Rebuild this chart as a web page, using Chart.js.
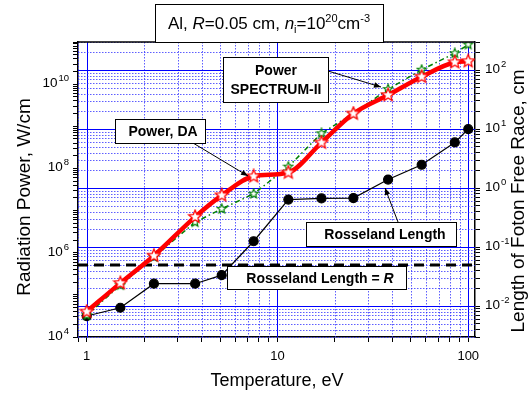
<!DOCTYPE html>
<html lang="en">
<head>
<meta charset="UTF-8">
<title>Al radiation power</title>
<script src="https://cdn.jsdelivr.net/npm/chart.js"></script>
<style>
  body { margin: 0; background: #fff; }
</style>
</head>
<body>
<canvas id="myChart" width="532" height="394"></canvas>
<script>
// temperature, eV
const temps = [1, 1.5, 2.25, 3.7, 5.1, 7.5, 11.4, 17, 25, 38, 57, 85, 100];
// radiation power, W/cm (left axis)
const powerDA = [4.0e4, 1.9e5, 8.5e5, 7.1e6, 2.3e7, 6.5e7, 8.0e7, 4.1e8, 2.0e9, 5.5e9, 1.5e10, 3.3e10, 3.5e10];
const powerSpectrum = [3.3e4, 1.7e5, 7.9e5, 5.3e6, 1.1e7, 2.5e7, 1.1e8, 6.8e8, 2.0e9, 7.6e9, 2.2e10, 5.4e10, 8.7e10];
// Rosseland length, cm (right axis)
const rosseland = [0.0068, 0.0094, 0.024, 0.024, 0.0335, 0.126, 0.64, 0.67, 0.68, 1.40, 2.49, 5.95, 10];
const plasmaR = 0.05;

// axis ranges and labelled ticks
const xRange = [0.9, 108.5];
const leftRange = [1e4, 1e11];
const rightRange = [0.003, 300];
const xLabels = [1, 10, 100];
const leftLabels = [1e4, 1e6, 1e8, 1e10];
const rightLabels = [0.01, 0.1, 1, 10, 100];

const FONT = 'Arial, "Liberation Sans", Helvetica, sans-serif';

function logTicks(min, max) {
  const out = [];
  for (let n = Math.floor(Math.log10(min)); n <= Math.ceil(Math.log10(max)); n++) {
    for (let k = 1; k <= 9; k++) {
      const v = k * Math.pow(10, n);
      if (v >= min * 0.9999 && v <= max * 1.0001) out.push({value: v});
    }
  }
  return out;
}
function isDecade(v) {
  const l = Math.log10(v);
  return Math.abs(l - Math.round(l)) < 1e-6;
}

function starImage(size, stroke, lw) {
  const c = document.createElement('canvas');
  c.width = c.height = size;
  const g = c.getContext('2d');
  const cx = size / 2, cy = size / 2, r = size / 2 - lw, ri = r * 0.45;
  g.beginPath();
  for (let i = 0; i < 10; i++) {
    const a = -Math.PI / 2 + i * Math.PI / 5;
    const rr = i % 2 ? ri : r;
    g.lineTo(cx + rr * Math.cos(a), cy + rr * Math.sin(a));
  }
  g.closePath();
  g.fillStyle = '#fff';
  g.fill();
  g.strokeStyle = stroke;
  g.lineWidth = lw;
  g.stroke();
  return c;
}
const redStar = starImage(16, '#ff0000', 1.3);
const greenStar = starImage(12, '#008000', 1.2);

function pts(ys) {
  return temps.map((t, i) => ({x: t, y: ys[i]}));
}

// 10^n with a raised exponent
function drawPow(ctx, exp, x, y, align) {
  ctx.font = '13.5px ' + FONT;
  const wb = ctx.measureText('10').width;
  ctx.font = '9.5px ' + FONT;
  const we = ctx.measureText(exp).width;
  const x0 = align === 'right' ? x - wb - we - 1 : x;
  ctx.fillStyle = '#000';
  ctx.textAlign = 'left';
  ctx.textBaseline = 'alphabetic';
  ctx.font = '13.5px ' + FONT;
  ctx.fillText('10', x0, y + 3);
  ctx.font = '9.5px ' + FONT;
  ctx.fillText(exp, x0 + wb + 1, y - 3);
}

function box(ctx, x, y, w, h) {
  ctx.fillStyle = '#fff';
  ctx.fillRect(x, y, w, h);
  ctx.strokeStyle = '#000';
  ctx.lineWidth = 1;
  ctx.strokeRect(x + 0.5, y + 0.5, w, h);
}

function arrow(ctx, x1, y1, x2, y2) {
  ctx.strokeStyle = '#000';
  ctx.fillStyle = '#000';
  ctx.lineWidth = 1;
  ctx.beginPath();
  ctx.moveTo(x1, y1);
  ctx.lineTo(x2, y2);
  ctx.stroke();
  const a = Math.atan2(y2 - y1, x2 - x1);
  const L = 7, W = 2.8;
  ctx.beginPath();
  ctx.moveTo(x2, y2);
  ctx.lineTo(x2 - L * Math.cos(a) + W * Math.sin(a), y2 - L * Math.sin(a) - W * Math.cos(a));
  ctx.lineTo(x2 - L * Math.cos(a) - W * Math.sin(a), y2 - L * Math.sin(a) + W * Math.cos(a));
  ctx.closePath();
  ctx.fill();
}

// draws pieces of text in a row: [text, font, yOffset]
function richText(ctx, parts, cx, baseline) {
  let total = 0;
  parts.forEach(p => { ctx.font = p[1]; total += ctx.measureText(p[0]).width; });
  let x = cx - total / 2;
  ctx.textAlign = 'left';
  ctx.textBaseline = 'alphabetic';
  ctx.fillStyle = '#000';
  parts.forEach(p => {
    ctx.font = p[1];
    ctx.fillText(p[0], x, baseline + (p[2] || 0));
    x += ctx.measureText(p[0]).width;
  });
}

// blue grid: solid at decades, dotted in between
const gridLines = {
  id: 'gridLines',
  beforeDatasetsDraw(chart) {
    const {ctx, chartArea: a, scales} = chart;
    ctx.save();
    ctx.lineWidth = 1;
    const style = major => {
      ctx.strokeStyle = major ? '#0000ff' : 'rgba(40,40,255,0.75)';
      ctx.setLineDash(major ? [] : [1.5, 1.5]);
    };
    logTicks(xRange[0], xRange[1]).forEach(t => {
      const x = Math.round(scales.x.getPixelForValue(t.value)) + 0.5;
      style(isDecade(t.value));
      ctx.beginPath();
      ctx.moveTo(x, a.top);
      ctx.lineTo(x, a.bottom);
      ctx.stroke();
    });
    logTicks(rightRange[0], rightRange[1]).forEach(t => {
      const y = Math.round(scales.y2.getPixelForValue(t.value)) + 0.5;
      style(isDecade(t.value));
      ctx.beginPath();
      ctx.moveTo(a.left, y);
      ctx.lineTo(a.right, y);
      ctx.stroke();
    });
    ctx.restore();
  }
};

const decorations = {
  id: 'decorations',
  afterDraw(chart) {
    const {ctx, chartArea: a, scales} = chart;
    ctx.save();
    // top edge of the frame
    ctx.strokeStyle = '#000';
    ctx.lineWidth = 1.5;
    ctx.beginPath();
    ctx.moveTo(a.left, a.top);
    ctx.lineTo(a.right, a.top);
    ctx.stroke();

    leftLabels.forEach(v => drawPow(ctx, String(Math.round(Math.log10(v))), 69, scales.y.getPixelForValue(v), 'right'));
    rightLabels.forEach(v => drawPow(ctx, String(Math.round(Math.log10(v))), 485, scales.y2.getPixelForValue(v), 'left'));

    // axis titles
    ctx.fillStyle = '#000';
    ctx.textAlign = 'center';
    ctx.textBaseline = 'middle';
    ctx.font = '18px ' + FONT;
    ctx.fillText('Temperature, eV', 277, 381);
    ctx.save();
    ctx.translate(25, 197);
    ctx.rotate(-Math.PI / 2);
    ctx.font = '19px ' + FONT;
    ctx.fillText('Radiation Power, W/cm', 0, 0);
    ctx.restore();
    ctx.save();
    ctx.translate(519, 201);
    ctx.rotate(-Math.PI / 2);
    ctx.font = '19px ' + FONT;
    ctx.fillText('Length of Foton Free Race, cm', 0, 0);
    ctx.restore();

    // arrows
    arrow(ctx, 328, 71, 381, 87);
    arrow(ctx, 193, 143, 248, 176);
    arrow(ctx, 398, 222, 385, 188);

    // title box
    box(ctx, 155, 4, 228, 38);
    const n17 = '17px ' + FONT, i17 = 'italic 17px ' + FONT, s11 = '11px ' + FONT;
    richText(ctx, [['Al, ', n17], ['R', i17], ['=0.05 cm, ', n17], ['n', i17], ['i', s11, 4],
      ['=10', n17], ['20', s11, -7], ['cm', n17], ['-3', s11, -7]], 269, 29);

    // labels
    const b14 = 'bold 14px ' + FONT;
    box(ctx, 223, 57, 105, 45);
    richText(ctx, [['Power', b14]], 276, 75);
    richText(ctx, [['SPECTRUM-II', b14]], 276, 94);
    box(ctx, 115, 119, 90, 24);
    richText(ctx, [['Power, DA', b14]], 163, 136);
    box(ctx, 306, 222, 150, 24);
    richText(ctx, [['Rosseland Length', b14]], 385, 239);
    box(ctx, 227, 266, 179, 23);
    richText(ctx, [['Rosseland Length = ', b14], ['R', 'bold italic 14px ' + FONT]], 320, 283);
    ctx.restore();
  }
};

const ctx = document.getElementById('myChart');
new Chart(ctx, {
  type: 'line',
  data: {
    datasets: [
      {
        label: 'Power, DA',
        data: pts(powerDA),
        yAxisID: 'y',
        borderColor: '#ff0000',
        borderWidth: 4.5,
        cubicInterpolationMode: 'monotone',
        pointStyle: redStar,
        pointRadius: 7,
        order: 1
      },
      {
        label: 'Power SPECTRUM-II',
        data: pts(powerSpectrum),
        yAxisID: 'y',
        borderColor: '#008000',
        borderWidth: 1.5,
        borderDash: [5, 3, 1.5, 3],
        pointStyle: greenStar,
        pointRadius: 5,
        order: 2
      },
      {
        label: 'Rosseland Length',
        data: pts(rosseland),
        yAxisID: 'y2',
        borderColor: '#000',
        borderWidth: 1.2,
        pointStyle: 'circle',
        pointRadius: 4.5,
        pointBackgroundColor: '#000',
        pointBorderColor: '#000',
        order: 3
      },
      {
        label: 'Rosseland Length = R',
        data: [{x: xRange[0], y: plasmaR}, {x: xRange[1], y: plasmaR}],
        yAxisID: 'y2',
        borderColor: '#000',
        borderWidth: 3,
        borderDash: [10, 6],
        pointRadius: 0,
        order: 4
      }
    ]
  },
  options: {
    responsive: false,
    animation: false,
    devicePixelRatio: 1,
    events: [],
    layout: { padding: { top: 42, left: 0, right: 0, bottom: 0 } },
    plugins: { legend: { display: false }, tooltip: { enabled: false } },
    scales: {
      x: {
        type: 'logarithmic',
        min: xRange[0],
        max: xRange[1],
        afterBuildTicks: s => { s.ticks = logTicks(xRange[0], xRange[1]); },
        afterFit: s => { s.height = 57; },
        ticks: {
          autoSkip: false,
          maxRotation: 0,
          padding: 7,
          color: '#000',
          font: { size: 13, family: FONT },
          callback: v => xLabels.includes(v) ? String(v) : ''
        },
        grid: { drawOnChartArea: false, tickColor: '#000', tickLength: 5 },
        border: { color: '#000', width: 1.5 }
      },
      y: {
        type: 'logarithmic',
        position: 'left',
        min: leftRange[0],
        max: leftRange[1],
        afterBuildTicks: s => { s.ticks = logTicks(leftRange[0], leftRange[1]); },
        afterFit: s => { s.width = 78; },
        ticks: { autoSkip: false, callback: () => '' },
        grid: { drawOnChartArea: false, tickColor: '#000', tickLength: 5 },
        border: { color: '#000', width: 1.5 }
      },
      y2: {
        type: 'logarithmic',
        position: 'right',
        min: rightRange[0],
        max: rightRange[1],
        afterBuildTicks: s => { s.ticks = logTicks(rightRange[0], rightRange[1]); },
        afterFit: s => { s.width = 57; },
        ticks: { autoSkip: false, callback: () => '' },
        grid: { drawOnChartArea: false, tickColor: '#000', tickLength: 5 },
        border: { color: '#000', width: 1.5 }
      }
    }
  },
  plugins: [gridLines, decorations]
});
</script>
</body>
</html>
